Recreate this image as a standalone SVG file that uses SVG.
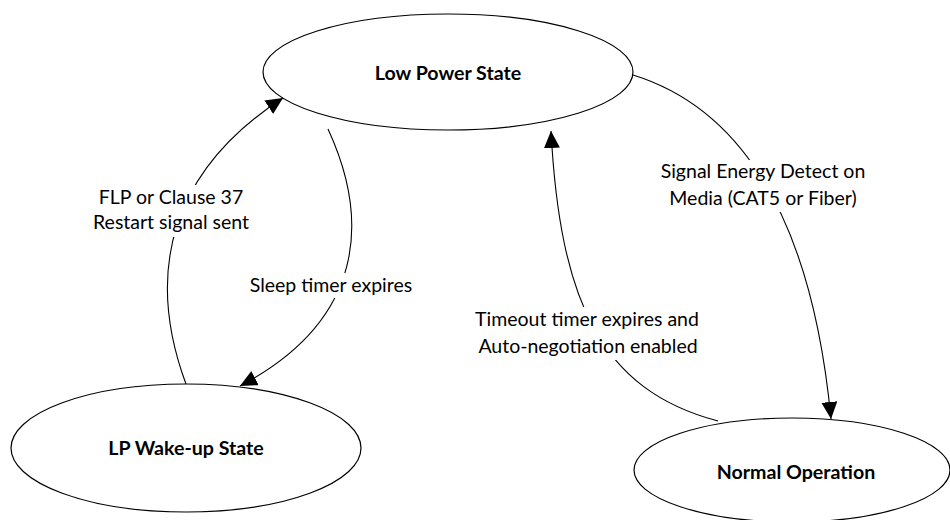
<svg xmlns="http://www.w3.org/2000/svg" width="950" height="520" viewBox="0 0 950 520">
<style>
.node{fill:#fff;stroke:#000;stroke-width:1.2}
.nl{font-family:Lato,"Liberation Sans",sans-serif;font-weight:bold;font-size:19.6px;fill:#000;text-anchor:middle}
.el{font-family:Lato,"Liberation Sans",sans-serif;font-size:19.5px;fill:#000;text-anchor:middle}
.edge{fill:none;stroke:#000;stroke-width:1.1}
.gap{fill:#fff;stroke:none}
</style>
<defs>
<marker id="arr" markerUnits="userSpaceOnUse" markerWidth="20" markerHeight="18" refX="17" refY="8" orient="auto">
<path d="M0,0 L17,8 L0,16 Z" fill="#000"/>
</marker>
</defs>
<rect width="950" height="520" fill="#fff"/>
<g id="nodes">
<g id="low-power"><ellipse class="node" cx="448" cy="72" rx="185" ry="58"/><text class="nl" x="448" y="80">Low Power State</text></g>
<g id="lp-wakeup"><ellipse class="node" cx="186" cy="448" rx="175" ry="64"/><text class="nl" x="186" y="455">LP Wake-up State</text></g>
<g id="normal"><ellipse class="node" cx="792" cy="470" rx="158" ry="52"/><text class="nl" x="796" y="479">Normal Operation</text></g>
</g>
<g id="connectors">
<path class="edge" d="M186,384 C144,270 172,170 283,98" marker-end="url(#arr)"/>
<path class="edge" d="M328,129 C370,220 365,320 240,386" marker-end="url(#arr)"/>
<path class="edge" d="M633,75 C730,105 810,200 831,419" marker-end="url(#arr)"/>
<path class="edge" d="M718,421 C600,390 560,300 551,131" marker-end="url(#arr)"/>
</g>
<g id="labels">
<rect class="gap" x="90" y="185" width="165" height="52"/>
<text class="el" x="171" y="204">FLP or Clause 37</text>
<text class="el" x="171" y="229">Restart signal sent</text>
<rect class="gap" x="246" y="273" width="172" height="25"/>
<text class="el" x="331" y="292">Sleep timer expires</text>
<rect class="gap" x="658" y="160" width="212" height="52"/>
<text class="el" x="763" y="178">Signal Energy Detect on</text>
<text class="el" x="763" y="205">Media (CAT5 or Fiber)</text>
<rect class="gap" x="468" y="307" width="238" height="53"/>
<text class="el" x="587" y="326">Timeout timer expires and</text>
<text class="el" x="588" y="353">Auto-negotiation enabled</text>
</g>
</svg>
